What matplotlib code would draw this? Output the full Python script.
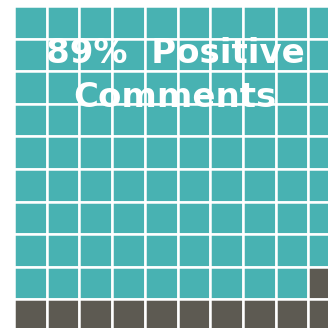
import matplotlib
matplotlib.use("Agg")
import matplotlib.pyplot as plt
from matplotlib.patches import Rectangle

# Waffle data: 100 comments, 89 of them positive
categories = ["Positive", "Other"]
counts = [89, 11]
colors = ["#48b2b2", "#5d5a52"]
n_rows = 10
n_cols = 10
label = "89%  Positive\nComments"

fig = plt.figure(figsize=(3.28, 3.28), dpi=100)
ax = fig.add_axes([0, 0, 1, 1])

# fill cells row by row from the top-left corner
cell_colors = []
for cat_color, n in zip(colors, counts):
    cell_colors += [cat_color] * n

for i, c in enumerate(cell_colors):
    row, col = divmod(i, n_cols)
    ax.add_patch(Rectangle((col, row), 1, 1, facecolor=c,
                           edgecolor="white", linewidth=1.8))

ax.set_xlim(-14 / 32.7, (328 - 14) / 32.7)
ax.set_ylim((328 - 6) / 32.6, -6 / 32.6)
ax.axis("off")

ax.text(n_cols / 2 - 0.07, 2.12, label, ha="center", va="center",
        color="white", fontsize=24.5, fontweight="bold",
        family="DejaVu Sans", linespacing=1.42)

fig.savefig("out.png", dpi=100, facecolor="white")
